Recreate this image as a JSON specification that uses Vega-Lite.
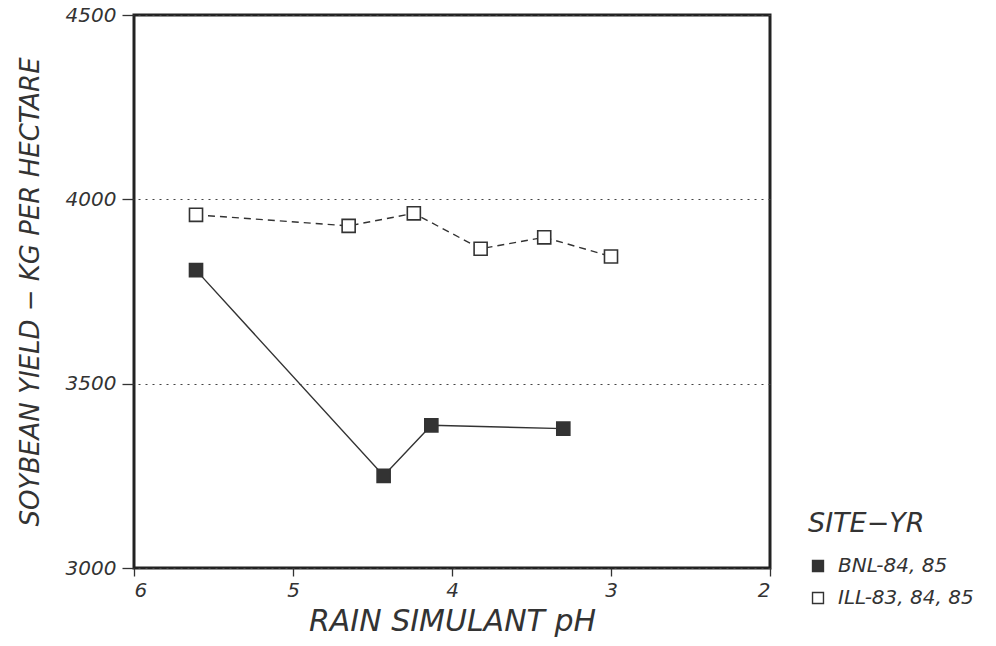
{
  "$schema": "https://vega.github.io/schema/vega-lite/v6.json",
  "width": 636,
  "height": 553,
  "autosize": {"type": "none"},
  "padding": {"left": 134, "top": 15, "right": 226, "bottom": 78},
  "background": "white",
  "config": {
    "view": {"stroke": "#222", "strokeWidth": 3},
    "font": "DejaVu Sans",
    "axis": {
      "labelFont": "DejaVu Sans",
      "labelFontStyle": "italic",
      "labelFontSize": 20,
      "labelColor": "#333",
      "titleFont": "DejaVu Sans",
      "titleFontStyle": "italic",
      "titleFontWeight": "normal",
      "titleColor": "#333",
      "tickColor": "#333",
      "tickWidth": 1.3,
      "domain": false
    }
  },
  "data": {
    "values": [
      {"site": "BNL-84, 85", "ph": 5.61, "yield": 3808},
      {"site": "BNL-84, 85", "ph": 4.43, "yield": 3250},
      {"site": "BNL-84, 85", "ph": 4.13, "yield": 3387},
      {"site": "BNL-84, 85", "ph": 3.3, "yield": 3378},
      {"site": "ILL-83, 84, 85", "ph": 5.61, "yield": 3958},
      {"site": "ILL-83, 84, 85", "ph": 4.65, "yield": 3928},
      {"site": "ILL-83, 84, 85", "ph": 4.24, "yield": 3962},
      {"site": "ILL-83, 84, 85", "ph": 3.82, "yield": 3866},
      {"site": "ILL-83, 84, 85", "ph": 3.42, "yield": 3897},
      {"site": "ILL-83, 84, 85", "ph": 3.0, "yield": 3845}
    ]
  },
  "encoding": {
    "x": {
      "field": "ph",
      "type": "quantitative",
      "scale": {"domain": [2, 6], "reverse": true, "nice": false, "zero": false},
      "axis": {
        "values": [2, 3, 4, 5, 6],
        "format": "d",
        "grid": false,
        "title": "RAIN SIMULANT pH",
        "titleFontSize": 30,
        "titlePadding": 6,
        "labelFontSize": 20,
        "labelPadding": 4,
        "tickSize": 8
      }
    },
    "y": {
      "field": "yield",
      "type": "quantitative",
      "scale": {"domain": [3000, 4500], "nice": false, "zero": false},
      "axis": {
        "values": [3000, 3500, 4000, 4500],
        "format": "d",
        "grid": true,
        "gridDash": [2, 5],
        "gridColor": "#444",
        "gridWidth": 1.2,
        "title": "SOYBEAN YIELD − KG PER HECTARE",
        "titleFontSize": 26,
        "titlePadding": 22,
        "labelPadding": 6,
        "tickSize": 12
      }
    }
  },
  "layer": [
    {
      "transform": [{"filter": "datum.site === 'BNL-84, 85'"}],
      "mark": {"type": "line", "color": "#333", "strokeWidth": 1.4},
      "encoding": {}
    },
    {
      "transform": [{"filter": "datum.site === 'ILL-83, 84, 85'"}],
      "mark": {"type": "line", "color": "#333", "strokeWidth": 1.4, "strokeDash": [7, 5]},
      "encoding": {}
    },
    {
      "mark": {"type": "point", "shape": "square", "size": 170, "stroke": "#333", "strokeWidth": 1.6, "filled": true, "opacity": 1},
      "encoding": {
        "fill": {
          "field": "site",
          "type": "nominal",
          "scale": {"domain": ["BNL-84, 85", "ILL-83, 84, 85"], "range": ["#333333", "#ffffff"]},
          "legend": {
            "title": "SITE−YR",
            "orient": "none",
            "legendX": 674,
            "legendY": 496,
            "titleFont": "DejaVu Sans",
            "titleFontStyle": "italic",
            "titleFontWeight": "normal",
            "titleFontSize": 27,
            "titleColor": "#333",
            "titlePadding": 18,
            "labelFont": "DejaVu Sans",
            "labelFontStyle": "italic",
            "labelFontSize": 20,
            "labelColor": "#333",
            "labelLimit": 300,
            "symbolType": "square",
            "symbolSize": 120,
            "symbolStrokeColor": "#333",
            "symbolStrokeWidth": 1.4,
            "rowPadding": 12,
            "labelOffset": 10
          }
        }
      }
    }
  ]
}
